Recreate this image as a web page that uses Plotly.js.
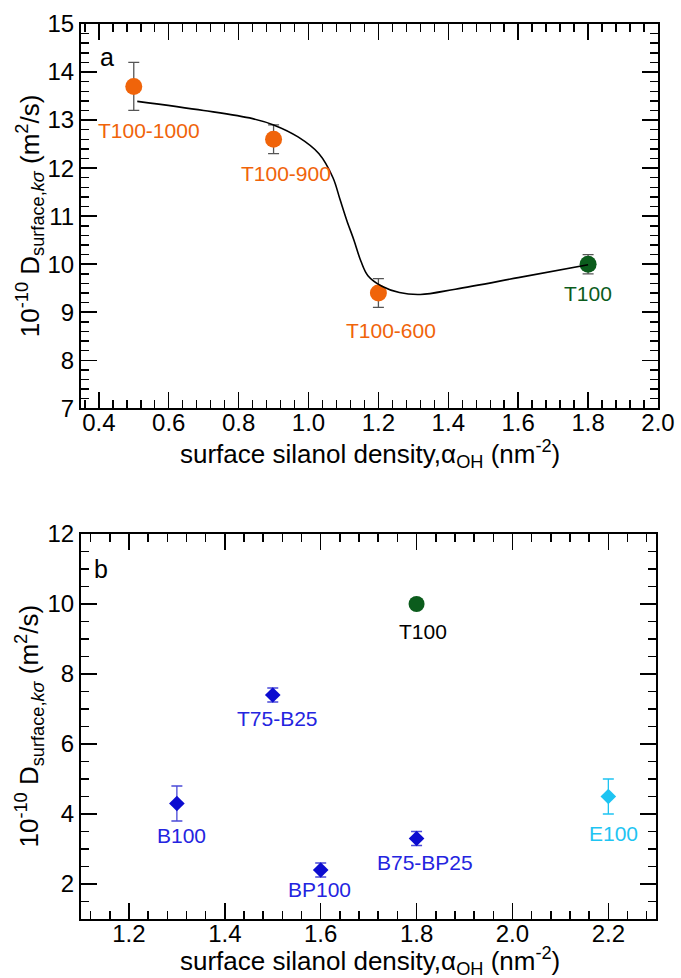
<!DOCTYPE html>
<html>
<head>
<meta charset="utf-8">
<script src="https://cdn.plot.ly/plotly-3.0.1.min.js"></script>
<style>html,body{margin:0;padding:0;background:#fff;} #chart{width:681px;height:978px;}</style>
</head>
<body>
<div id="chart"></div>
<script>
// Panel a data
const aNames = ["T100-1000", "T100-900", "T100-600"];
const aX = [0.5, 0.9, 1.2];
const aY = [13.7, 12.6, 9.4];
const aErr = [0.5, 0.3, 0.3];
const aT100X = [1.8];
const aT100Y = [10.0];
const aT100Err = [0.2];
// fitted guide curve
const curveX = [0.51, 0.7, 0.84, 0.9, 0.97, 1.03, 1.07, 1.09, 1.11, 1.13, 1.15, 1.17, 1.21, 1.26, 1.32, 1.42, 1.6, 1.8];
const curveY = [13.39, 13.2, 13.03, 12.9, 12.65, 12.3, 11.8, 11.35, 10.9, 10.5, 10.06, 9.76, 9.54, 9.41, 9.37, 9.48, 9.72, 9.99];
// label positions
const aLabelX = [0.544, 0.935, 1.236, 1.80];
const aLabelY = [12.79, 11.88, 8.62, 9.40];
const aLabels = ["T100-1000", "T100-900", "T100-600", "T100"];

// Panel b data
const bNames = ["B100", "T75-B25", "BP100", "B75-BP25"];
const bX = [1.3, 1.5, 1.6, 1.8];
const bY = [4.3, 7.4, 2.4, 3.3];
const bErr = [0.5, 0.2, 0.2, 0.2];
const bE100X = [2.2];
const bE100Y = [4.5];
const bE100Err = [0.5];
const bT100X = [1.8];
const bT100Y = [10.0];
const bLabels = ["B100", "T75-B25", "BP100", "B75-BP25", "E100", "T100"];
const bLabelX = [1.31, 1.51, 1.598, 1.817, 2.21, 1.813];
const bLabelY = [3.38, 6.73, 1.85, 2.61, 3.45, 9.22];

const ORANGE = "#f0640a";
const GREEN = "#0b5c1c";
const BLUE = "#0c0cd0";
const BLUE_T = "#2424e0";
const CYAN = "#1ec4f2";
const FONT = "Liberation Sans, Arial, sans-serif";

const traces = [
  {x: aX, y: aY, mode: "markers", marker: {color: ORANGE, size: 17, symbol: "circle"},
   error_y: {type: "data", array: aErr, visible: true, color: "#555", thickness: 1.3, width: 5.5}, xaxis: "x", yaxis: "y", text: aNames},
  {x: aT100X, y: aT100Y, mode: "markers", marker: {color: GREEN, size: 17, symbol: "circle"},
   error_y: {type: "data", array: aT100Err, visible: true, color: "#555", thickness: 1.3, width: 5.5}, xaxis: "x", yaxis: "y"},
  {x: curveX, y: curveY, mode: "lines", line: {color: "#000", width: 1.6, shape: "spline", smoothing: 1}, xaxis: "x", yaxis: "y", hoverinfo: "skip"},
  {x: bX, y: bY, mode: "markers", marker: {color: BLUE, size: 12, symbol: "diamond"},
   error_y: {type: "data", array: bErr, visible: true, color: "#4a4ad8", thickness: 1.3, width: 5.5}, xaxis: "x2", yaxis: "y2", text: bNames},
  {x: bE100X, y: bE100Y, mode: "markers", marker: {color: CYAN, size: 12, symbol: "diamond"},
   error_y: {type: "data", array: bE100Err, visible: true, color: CYAN, thickness: 1.3, width: 5.5}, xaxis: "x2", yaxis: "y2"},
  {x: bT100X, y: bT100Y, mode: "markers", marker: {color: GREEN, size: 16, symbol: "circle"}, xaxis: "x2", yaxis: "y2"}
];

const annotations = [];
const aColors = [ORANGE, ORANGE, ORANGE, GREEN];
aLabels.forEach((t, i) => annotations.push({x: aLabelX[i], y: aLabelY[i], xref: "x", yref: "y", text: t, showarrow: false,
  font: {family: FONT, size: 21, color: aColors[i]}}));
const bColors = [BLUE_T, BLUE_T, BLUE_T, BLUE_T, CYAN, "#000"];
bLabels.forEach((t, i) => annotations.push({x: bLabelX[i], y: bLabelY[i], xref: "x2", yref: "y2", text: t, showarrow: false,
  font: {family: FONT, size: 21, color: bColors[i]}}));
annotations.push({x: 0.424, y: 14.31, xref: "x", yref: "y", text: "a", showarrow: false, font: {family: FONT, size: 25, color: "#000"}});
annotations.push({x: 1.142, y: 11.0, xref: "x2", yref: "y2", text: "b", showarrow: false, font: {family: FONT, size: 25, color: "#000"}});

const xTitle = "surface silanol density,α<sub>OH</sub> (nm<sup>-2</sup>)";
const yTitle = "10<sup>-10</sup> D<sub>surface,<i>kσ</i></sub> (m<sup>2</sup>/s)";
const TITLE_FONT = {family: FONT, size: 26, color: "#000"};
const domA = [0.5706, 1];
const domB = [0, 0.4302];

// axis titles as positioned annotations
annotations.push({xref: "paper", yref: "paper", x: 0.5, y: domA[0], xanchor: "center", yanchor: "middle", yshift: -46,
  text: xTitle, showarrow: false, font: TITLE_FONT});
annotations.push({xref: "paper", yref: "paper", x: 0.5, y: domB[0], xanchor: "center", yanchor: "middle", yshift: -42,
  text: xTitle, showarrow: false, font: TITLE_FONT});
annotations.push({xref: "paper", yref: "paper", x: 0, y: (domA[0] + domA[1]) / 2, xanchor: "center", yanchor: "middle", xshift: -51,
  text: yTitle, textangle: -90, showarrow: false, font: TITLE_FONT});
annotations.push({xref: "paper", yref: "paper", x: 0, y: (domB[0] + domB[1]) / 2, xanchor: "center", yanchor: "middle", xshift: -51,
  text: yTitle, textangle: -90, showarrow: false, font: TITLE_FONT});

function axisCommon() {
  return {
    showline: true, linecolor: "#000", linewidth: 2, mirror: "ticks",
    ticks: "inside", ticklen: 16, tickwidth: 1.5, tickcolor: "#000",
    showgrid: false, zeroline: false,
    tickfont: {family: FONT, size: 24, color: "#000"},
  };
}

const layout = {
  width: 681, height: 978,
  margin: {l: 81, r: 23, t: 24, b: 59},
  paper_bgcolor: "#fff", plot_bgcolor: "#fff",
  showlegend: false,
  font: {family: FONT, color: "#000"},
  xaxis: Object.assign(axisCommon(), {
    domain: [0, 1], anchor: "y", range: [0.349, 2.0], tick0: 0.4, dtick: 0.2, tickformat: ".1f", ticklabelstandoff: -8,
    minor: {dtick: 0.04, tick0: 0.4, ticks: "inside", ticklen: 8, tickwidth: 1.5, tickcolor: "#000", showgrid: false}
  }),
  yaxis: Object.assign(axisCommon(), {
    domain: domA, anchor: "x", range: [7, 15], dtick: 1, tick0: 7,
    minor: {dtick: 0.2, ticks: "inside", ticklen: 8, tickwidth: 1.5, tickcolor: "#000", showgrid: false}
  }),
  xaxis2: Object.assign(axisCommon(), {
    domain: [0, 0.997], anchor: "y2", range: [1.1, 2.3], tick0: 1.2, dtick: 0.2, tickformat: ".1f", ticklabelstandoff: -8,
    minor: {dtick: 0.04, tick0: 1.2, ticks: "inside", ticklen: 8, tickwidth: 1.5, tickcolor: "#000", showgrid: false}
  }),
  yaxis2: Object.assign(axisCommon(), {
    domain: domB, anchor: "x2", range: [1, 12], dtick: 2, tick0: 0,
    minor: {dtick: 0.5, ticks: "inside", ticklen: 8, tickwidth: 1.5, tickcolor: "#000", showgrid: false}
  }),
  annotations: annotations
};

Plotly.newPlot("chart", traces, layout, {staticPlot: true, displayModeBar: false});
</script>
</body>
</html>
